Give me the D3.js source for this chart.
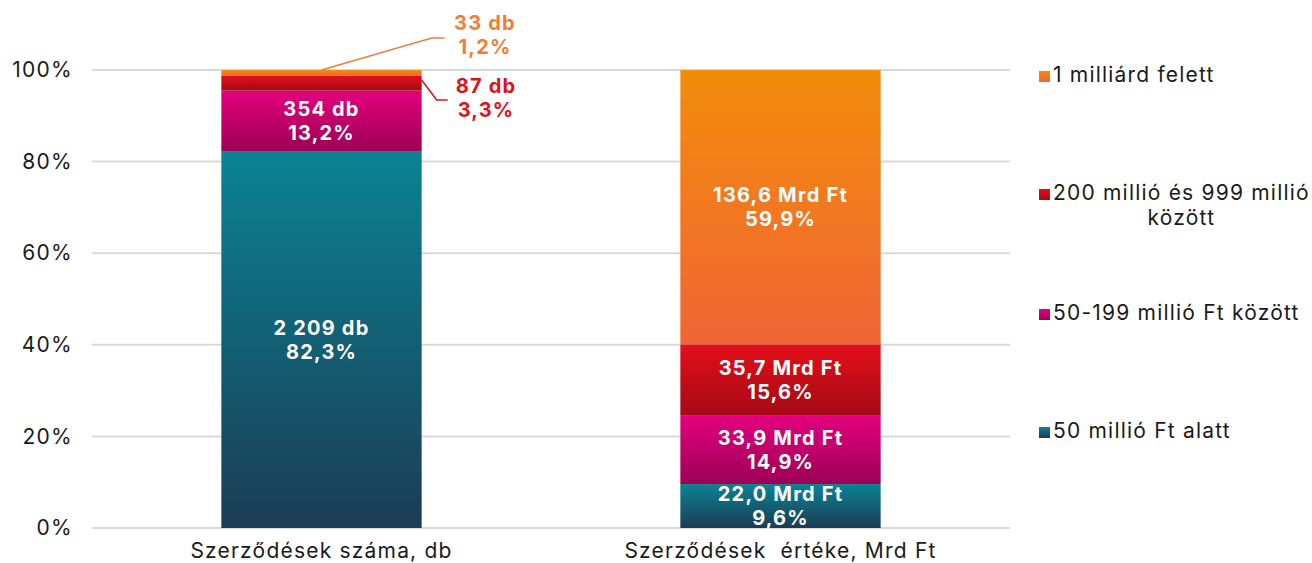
<!DOCTYPE html>
<html lang="hu">
<head>
<meta charset="utf-8">
<title>Szerződések</title>
<script src="https://d3js.org/d3.v7.min.js"></script>
<style>
  body { margin: 0; background: #fff; }
  text { font-family: Inter, "Noto Sans", sans-serif; }
</style>
</head>
<body>
<div id="chart"></div>
<script>
// data
var categories = ["Szerződések száma, db", "Szerződések  értéke, Mrd Ft"];
var seriesNames = ["50 millió Ft alatt", "50-199 millió Ft között", "200 millió és 999 millió között", "1 milliárd felett"];
var counts = [2209, 354, 87, 33];             // db
var amounts = [22.0, 33.9, 35.7, 136.6];      // Mrd Ft
var countPct = [82.3, 13.2, 3.3, 1.2];
var amountPct = [9.6, 14.9, 15.6, 59.9];
var yTicks = [0, 0.2, 0.4, 0.6, 0.8, 1];

var w = 1312, h = 563;
var gradColors = [
  ["#0b8393", "#1b3c55"],
  ["#e3007e", "#9c0055"],
  ["#e30f1a", "#a40a16"],
  ["#f28c0b", "#f06536"]
];

var svg = d3.select("#chart").append("svg").attr("width", w).attr("height", h);
var defs = svg.append("defs");
gradColors.forEach(function(c, i) {
  var g = defs.append("linearGradient").attr("id", "grad" + i)
    .attr("x1", 0).attr("y1", 0).attr("x2", 0).attr("y2", 1);
  g.append("stop").attr("offset", "0%").attr("stop-color", c[0]);
  g.append("stop").attr("offset", "100%").attr("stop-color", c[1]);
});

var xScale = d3.scaleBand().domain(categories).range([92, 1010])
  .paddingInner(0.5636).paddingOuter(0.2818);
var yScale = d3.scaleLinear().domain([0, 1]).range([528, 70]);

// grid
svg.append("g").selectAll("line").data(yTicks).enter().append("line")
  .attr("x1", 92).attr("x2", 1010)
  .attr("y1", function(d) { return yScale(d); })
  .attr("y2", function(d) { return yScale(d); })
  .attr("stroke", "#d9d9d9").attr("stroke-width", 2);

var yAxis = d3.axisLeft(yScale).tickValues(yTicks).tickSize(0).tickPadding(0)
  .tickFormat(function(d) { return Math.round(d * 100) + "%"; });
var ga = svg.append("g").attr("transform", "translate(73,0)").call(yAxis);
ga.select(".domain").remove();
ga.selectAll("text").attr("font-size", 21).attr("fill", "#1a1a1a")
  .style("font-family", "Inter, sans-serif").style("letter-spacing", "1.3px");

var xAxis = d3.axisBottom(xScale).tickSize(0).tickPadding(0);
var gx = svg.append("g").attr("transform", "translate(0,543)").call(xAxis);
gx.select(".domain").remove();
gx.selectAll("text").attr("font-size", 21).attr("fill", "#1a1a1a")
  .style("font-family", "Inter, sans-serif").style("letter-spacing", "1.2px")
  .style("white-space", "pre");

// stacked data
var nf = d3.formatLocale({decimal: ",", thousands: "\u00a0", grouping: [3], currency: ["", " Ft"]});
var fmtInt = nf.format(",d"), fmt1 = nf.format(".1f");
var rows = [
  { cat: categories[0], pct: countPct, labels: counts.map(function(v) { return fmtInt(v) + " db"; }) },
  { cat: categories[1], pct: amountPct, labels: amounts.map(function(v) { return fmt1(v) + " Mrd Ft"; }) }
];

var segs = [];
rows.forEach(function(r) {
  var acc = 0;
  r.pct.forEach(function(p, i) {
    segs.push({ cat: r.cat, i: i, y0: acc / 100, y1: (acc + p) / 100, label: r.labels[i], pct: fmt1(p) + "%", p: p });
    acc += p;
  });
});

svg.append("g").selectAll("rect").data(segs).enter().append("rect")
  .attr("x", function(d) { return xScale(d.cat); })
  .attr("width", xScale.bandwidth())
  .attr("y", function(d) { return yScale(d.y1); })
  .attr("height", function(d) { return yScale(d.y0) - yScale(d.y1); })
  .attr("fill", function(d) { return "url(#grad" + d.i + ")"; });

// labels inside
var inside = segs.filter(function(d) { return d.p > 5; });
var lg = svg.append("g").selectAll("text").data(inside).enter().append("text")
  .attr("text-anchor", "middle").attr("fill", "#fff")
  .attr("font-weight", "bold").attr("font-size", 20).style("letter-spacing", "1.2px")
  .attr("x", function(d) { return xScale(d.cat) + xScale.bandwidth() / 2; })
  .attr("y", function(d) { return (yScale(d.y0) + yScale(d.y1)) / 2; });
lg.append("tspan").attr("x", function(d) { return xScale(d.cat) + xScale.bandwidth() / 2; })
  .attr("dy", "-0.25em").text(function(d) { return d.label; });
lg.append("tspan").attr("x", function(d) { return xScale(d.cat) + xScale.bandwidth() / 2; })
  .attr("dy", "1.2em").text(function(d) { return d.pct; });

// outside labels with leader lines
var outside = segs.filter(function(d) { return d.p <= 5; });
var callout = {
  2: { color: "#e1101c", pts: function(d, x0, x1) { var ym = (yScale(d.y0) + yScale(d.y1)) / 2; return [[x1, ym - 3], [x1 + 15, 100], [x1 + 26, 100]]; }, tx: 486, ty: 86 },
  3: { color: "#f07d3a", pts: function(d, x0, x1) { return [[(x0 + x1) / 2, yScale(d.y1)], [x1 + 10, 38], [x1 + 23, 38]]; }, tx: 485, ty: 23 }
};
outside.forEach(function(d) {
  var c = callout[d.i];
  var x0 = xScale(d.cat), x1 = x0 + xScale.bandwidth();
  svg.append("path").attr("d", d3.line()(c.pts(d, x0, x1)))
    .attr("fill", "none").attr("stroke", c.color).attr("stroke-width", 1.5);
  var t = svg.append("text").attr("text-anchor", "middle").attr("fill", c.color)
    .attr("font-weight", "bold").attr("font-size", 20).style("letter-spacing", "1.2px")
    .attr("x", c.tx).attr("y", c.ty);
  t.append("tspan").attr("x", c.tx).attr("dy", "0.35em").text(d.label);
  t.append("tspan").attr("x", c.tx).attr("dy", "1.2em").text(d.pct);
});

// legend
var legendY = [75, 193, 313, 431];
var legendOrder = [3, 2, 1, 0];
var leg = svg.append("g");
legendOrder.forEach(function(si, k) {
  var y = legendY[k];
  leg.append("rect").attr("x", 1039).attr("y", y - 4).attr("width", 11).attr("height", 11)
    .attr("fill", "url(#grad" + si + ")");
  var name = seriesNames[si];
  var parts = name === "200 millió és 999 millió között" ? ["200 millió és 999 millió", "között"] : [name];
  var t1 = leg.append("text").attr("x", 1053).attr("y", y).attr("dy", "0.35em")
    .attr("font-size", 21).style("letter-spacing", "1.2px").attr("fill", "#1a1a1a").text(parts[0]);
  if (parts.length > 1) {
    var len = t1.node().getComputedTextLength();
    leg.append("text").attr("x", 1053 + len / 2).attr("y", y + 25).attr("dy", "0.35em")
      .attr("text-anchor", "middle").attr("font-size", 21).style("letter-spacing", "1.2px")
      .attr("fill", "#1a1a1a").text(parts[1]);
  }
});
</script>
</body>
</html>
